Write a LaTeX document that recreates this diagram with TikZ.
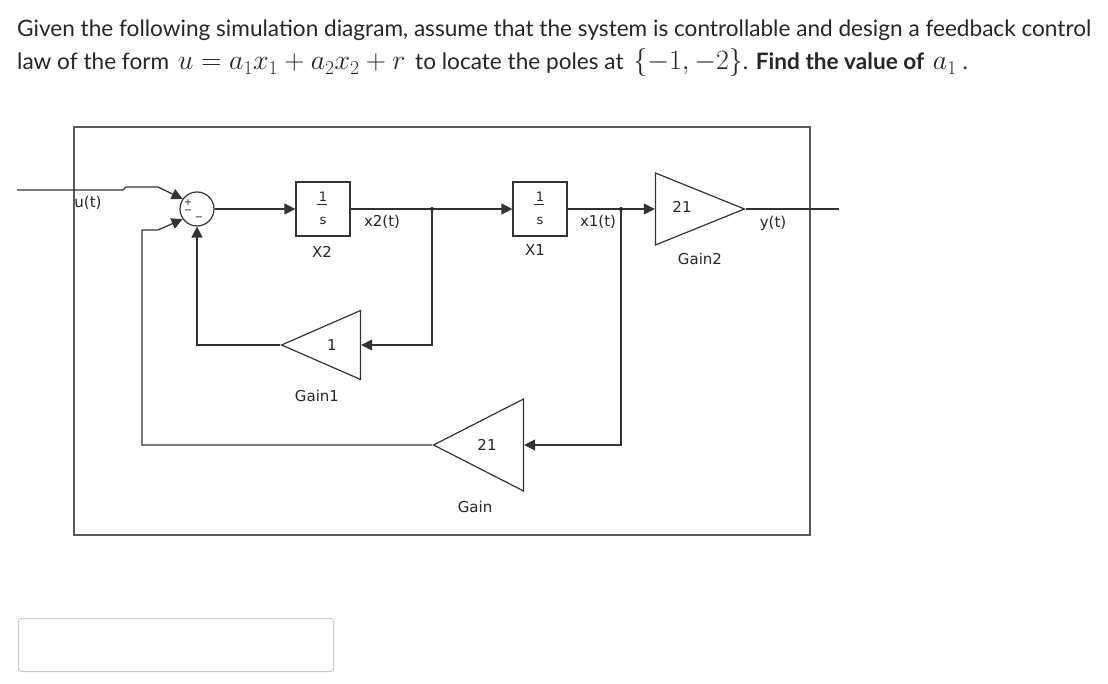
\RequirePackage{fix-cm}
\documentclass[tikz,border=0pt]{standalone}
\usepackage[no-math]{fontspec}
\setmainfont{Lato}
\newfontfamily\simfont{DejaVu Sans}
\newcommand{\bigmath}[1]{{\fontsize{28}{30}\selectfont$#1$}}
\usetikzlibrary{arrows.meta,shapes.geometric}
\begin{document}
\begin{tikzpicture}[x=1pt,y=-1pt,
  wire/.style={draw=black!80, line width=1.3pt},
  arr/.style={-{Triangle[length=11pt,width=11pt]}},
  intbox/.style={draw=black!80,line width=1.3pt,minimum width=54pt,minimum height=54pt,inner sep=0},
  gaintri/.style={draw=black!80,line width=1.2pt,shape=isosceles triangle,isosceles triangle stretches,inner sep=0},
  lbl/.style={font=\simfont\fontsize{15}{15}\selectfont, text=black!85, inner sep=0},
  small/.style={font=\simfont\fontsize{13}{13}\selectfont, text=black!85, inner sep=0},
  sgn/.style={font=\simfont\fontsize{10}{10}\selectfont, text=black!85, inner sep=0},
  sumc/.style={circle,draw=black!80,line width=1.2pt,minimum size=34pt,inner sep=0},
  qtext/.style={anchor=base west, inner sep=0, font=\fontsize{22.6}{26}\selectfont, text=black!85},
  jdot/.style={circle,fill=black!85,inner sep=0,minimum size=4pt},
]
\useasboundingbox (0,0) rectangle (1108,684);

% question text
\node[qtext] (q1) at (17,37) {Given the following simulation diagram, assume that the system is controllable and design a feedback control};
\node[qtext] (q2) at (17,70) {law of the form\hspace{3pt} \bigmath{u = a_1x_1 + a_2x_2 + r}\hspace{4pt} to locate the poles at\hspace{4pt} \bigmath{\{-1, -2\}}. \textbf{Find the value of}\hspace{3pt} \bigmath{a_1} .};

% frame
\node[draw=black!65, line width=2.2pt, minimum width=736pt, minimum height=408pt, inner sep=0, anchor=north west] (frame) at (73,126) {};

% answer box
\node[draw=black!20, rounded corners=3pt, line width=1pt, minimum width=315pt, minimum height=53pt, inner sep=0, anchor=north west] (ans) at (18,618) {};

% blocks
\node[sumc] (sum) at (197,209) {};
\node[intbox] (X2) at (323,209) {};
\node[intbox] (X1) at (540,209) {};
\node[gaintri, minimum height=89pt, minimum width=72pt, anchor=apex] (G2) at (746,209) {};
\node[gaintri, shape border rotate=180, minimum height=79pt, minimum width=69pt, anchor=apex] (G1) at (280,345) {};
\node[gaintri, shape border rotate=180, minimum height=90pt, minimum width=92pt, anchor=apex] (G) at (432,445) {};

% fraction in integrators
\node[small] (X2num) at (323,197) {1};
\node[small] (X2den) at (323,221) {s};
\draw[black!85, line width=0.9pt] (X2num.south west) ++(-1.5,3) -- ++(10,0);
\node[small] (X1num) at (540,197) {1};
\node[small] (X1den) at (540,221) {s};
\draw[black!85, line width=0.9pt] (X1num.south west) ++(-1.5,3) -- ++(10,0);

% sum signs
\node[sgn] (s1) at (188,202) {+};
\node[sgn] (s2) at (188,212) {−};
\node[sgn] (s3) at (199,219) {−};

% coordinates
\coordinate (uin) at (17,190);
\coordinate (u1) at (123,190);
\coordinate (u2) at (126,187);
\coordinate (u3) at (158,187);
\coordinate (j1) at (432,209);
\coordinate (j2) at (621,209);
\coordinate (yout) at (839,209);
\coordinate (fb1) at (142,445);
\coordinate (fb2) at (142,230);
\coordinate (fb3) at (158,230);

% connectors
\draw[wire,arr] (uin) -- (u1) -- (u2) -- (u3) -- (sum.145);
\draw[wire,arr] (sum.east) -- (X2.west);
\draw[wire] (X2.east) -- (j1);
\draw[wire,arr] (j1) -- (X1.west);
\draw[wire] (X1.east) -- (j2);
\draw[wire,arr] (j2) -- (G2.lower side);
\draw[wire] (G2.apex) -- (yout);
\draw[wire,arr] (j1) |- (G1.lower side);
\draw[wire,arr] (G1.apex) -| (sum.south);
\draw[wire,arr] (j2) |- (G.lower side);
\draw[wire,arr] (G.apex) -- (fb1) -- (fb2) -- (fb3) -- (sum.215);
\node[jdot] (d1) at (j1) {};
\node[jdot] (d2) at (j2) {};

% labels
\node[lbl] (lu) at (88,203) {u(t)};
\node[lbl] (lx2) at (382,222) {x2(t)};
\node[lbl] (lX2) at (322,252) {X2};
\node[lbl] (lX1) at (535,250) {X1};
\node[lbl] (lx1) at (598,222) {x1(t)};
\node[lbl] (ly) at (773,223) {y(t)};
\node[lbl] (g2v) at (682,207) {21};
\node[lbl] (g2n) at (700,259) {Gain2};
\node[lbl] (g1v) at (332,345) {1};
\node[lbl] (g1n) at (317,396) {Gain1};
\node[lbl] (gv) at (487,445) {21};
\node[lbl] (gn) at (475,507) {Gain};
\end{tikzpicture}
\end{document}
